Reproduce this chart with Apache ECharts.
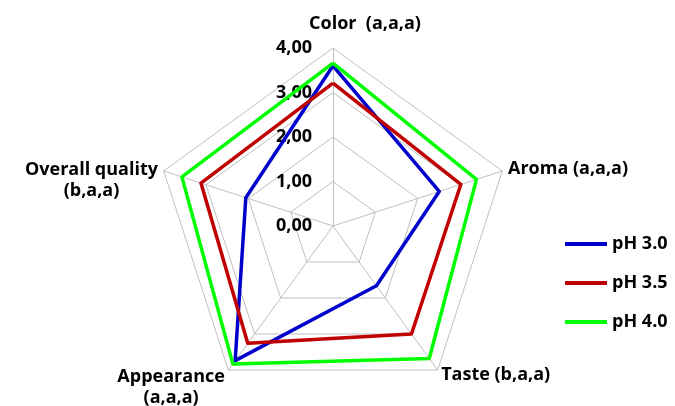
<!DOCTYPE html>
<html>
<head>
<meta charset="utf-8">
<script src="https://cdn.jsdelivr.net/npm/echarts@6/dist/echarts.min.js"></script>
<style>
  html, body { margin: 0; padding: 0; background: #fff; }
  #main { width: 675px; height: 406px; }
</style>
</head>
<body>
<div id="main"></div>
<script>
// attributes in clockwise order starting from the top
var attributes = ['Color', 'Aroma', 'Taste', 'Appearance', 'Overall quality'];
var letters = ['(a,a,a)', '(a,a,a)', '(b,a,a)', '(a,a,a)', '(b,a,a)'];
var seriesNames = ['pH 3.0', 'pH 3.5', 'pH 4.0'];
var ph30 = [3.60, 2.51, 1.66, 3.74, 2.06];
var ph35 = [3.21, 3.02, 3.00, 3.26, 3.12];
var ph40 = [3.66, 3.39, 3.68, 3.83, 3.57];
var colors = ['#0000cc', '#c00000', '#00ff00'];

var myChart = echarts.init(document.getElementById('main'));

var font = '"Open Sans", Lato, sans-serif';

// echarts radar goes counter-clockwise, so flip the order after the first one
var order = [0, 4, 3, 2, 1];
function reorder(arr) {
    return order.map(function (i) { return arr[i]; });
}

var nameTxt = { fontFamily: font, fontWeight: 'bold', fontSize: 18, color: '#000', align: 'center', lineHeight: 21 };

function nameFormatter(name) {
    var i = attributes.indexOf(name);
    if (i === 0) return '{top|' + name + '  ' + letters[i] + '}';
    // spacer lines push the two-line names down a bit
    if (i === 3) return '{sp1| }\n{c|' + name + '}\n{c|' + letters[i] + '}';
    if (i === 4) return '{sp2| }\n{c|' + name + '}\n{c|' + letters[i] + '}';
    return '{c|' + name + ' ' + letters[i] + '}';
}

var option = {
    animation: false,
    color: colors,
    legend: {
        orient: 'vertical',
        left: 560,
        top: 230,
        icon: 'rect',
        itemWidth: 42,
        itemHeight: 4,
        itemGap: 21,
        data: seriesNames,
        textStyle: {
            fontFamily: font,
            fontWeight: 'bold',
            fontSize: 18,
            color: '#000'
        }
    },
    radar: {
        center: [333, 226],
        radius: 178,
        startAngle: 90,
        shape: 'polygon',
        splitNumber: 4,
        nameGap: 6,
        axisName: {
            color: '#000',
            fontFamily: font,
            fontWeight: 'bold',
            fontSize: 18,
            formatter: nameFormatter,
            rich: {
                c: nameTxt,
                top: Object.assign({}, nameTxt, { padding: [0, 0, 6, 64] }),
                sp1: { fontSize: 1, lineHeight: 26 },
                sp2: { fontSize: 1, lineHeight: 22 }
            }
        },
        indicator: reorder(attributes).map(function (a, i) {
            return {
                name: a,
                min: 0,
                max: 4,
                axisLabel: i === 0 ? {show: true} : {show: false}
            };
        }),
        splitLine: { lineStyle: { color: '#bfbfbf', width: 1 } },
        splitArea: { show: false },
        axisLine: { lineStyle: { color: '#bfbfbf', width: 1 } },
        axisTick: { show: false },
        axisLabel: {
            show: false,
            color: '#000',
            fontFamily: font,
            fontWeight: 'bold',
            fontSize: 18,
            margin: 21,
            formatter: function (v) { return v.toFixed(2).replace('.', ','); }
        }
    },
    series: [{
        type: 'radar',
        symbol: 'none',
        data: [
            { name: seriesNames[0], value: reorder(ph30), lineStyle: { color: colors[0], width: 3.5 } },
            { name: seriesNames[1], value: reorder(ph35), lineStyle: { color: colors[1], width: 3.5 } },
            { name: seriesNames[2], value: reorder(ph40), lineStyle: { color: colors[2], width: 3.5 } }
        ]
    }]
};

myChart.setOption(option);
</script>
</body>
</html>
